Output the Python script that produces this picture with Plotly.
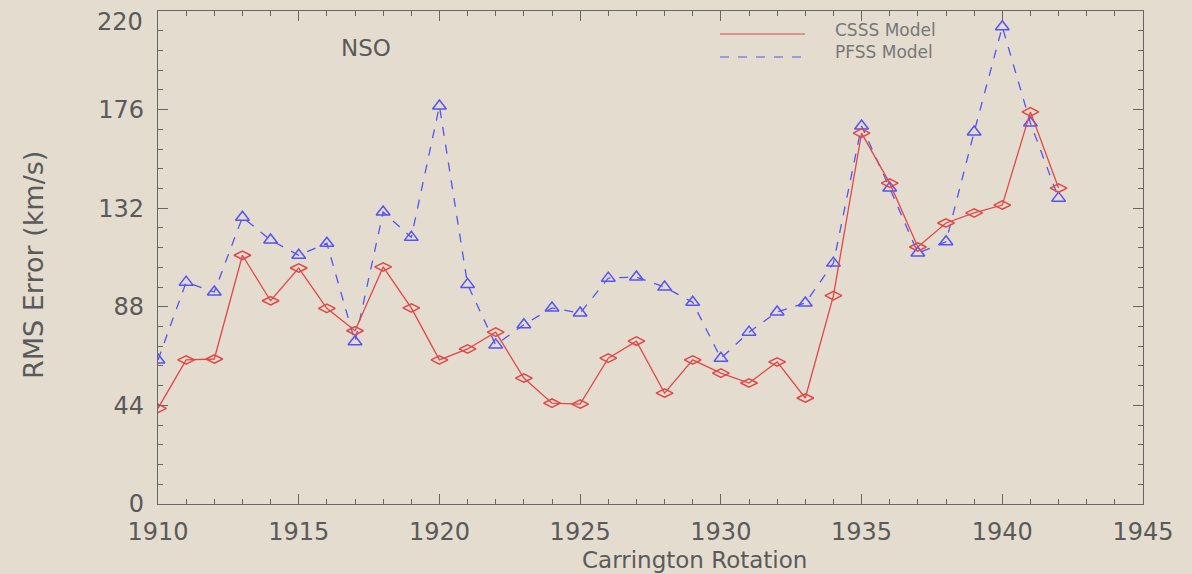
import plotly.graph_objects as go

rotations = list(range(1910, 1943))
csss = [42.7, 64.3, 64.7, 111.0, 90.7, 105.3, 87.3, 77.3, 105.8, 87.5,
        64.3, 69.2, 76.7, 56.2, 45.0, 44.6, 65.1, 72.7, 49.5, 64.3,
        58.4, 54.0, 63.4, 47.3, 93.0, 165.5, 143.2, 114.7, 125.4, 129.9,
        133.4, 175.0, 141.0]
pfss = [64.3, 99.0, 94.6, 128.0, 117.8, 111.0, 116.4, 72.4, 130.3, 119.0,
        177.6, 98.0, 71.0, 80.0, 87.5, 85.2, 100.8, 101.3, 96.8, 90.0,
        65.0, 76.7, 85.7, 89.7, 107.5, 168.7, 141.0, 112.0, 117.0, 166.0,
        213.0, 170.0, 136.5]
y_ticks = [0, 44, 88, 132, 176, 220]
y_ticktext = ["0", "44", "88", "132", "176", ""]   # top label "220" drawn just below its tick
y_top_label = "220"
x_ticks = [1910, 1915, 1920, 1925, 1930, 1935, 1940, 1945]

BG = "#e4dccf"
AX = "#666666"
TXT = "#5a5a5a"
RED = "#e04848"
BLUE = "#5454f4"
FONT = "DejaVu Sans"

fig = go.Figure()
fig.add_trace(go.Scatter(
    x=rotations, y=pfss, mode="lines+markers", name="PFSS Model",
    line=dict(color=BLUE, width=1.3, dash="dash"),
    marker=dict(symbol="triangle-up-open", size=12, color=BLUE, line=dict(width=1.5)),
    showlegend=False))
fig.add_trace(go.Scatter(
    x=rotations, y=csss, mode="lines+markers", name="CSSS Model",
    line=dict(color=RED, width=1.3),
    marker=dict(symbol="diamond-wide-open", size=12, color=RED, line=dict(width=1.5)),
    showlegend=False))

axis_common = dict(showline=True, linecolor=AX, linewidth=1.2, mirror="ticks",
                   ticks="inside", tickcolor=AX, tickwidth=1, ticklen=10,
                   showgrid=False, zeroline=False, ticklabeloverflow="allow",
                   automargin=False,
                   tickfont=dict(family=FONT, size=24, color=TXT))

fig.update_xaxes(range=[1910, 1945], tickvals=x_ticks, ticktext=[str(v) for v in x_ticks],
                 minor=dict(dtick=1, ticks="inside", ticklen=5, tickcolor=AX, showgrid=False),
                 ticklabelstandoff=6, **axis_common)
fig.update_yaxes(range=[0, 220.01], tickvals=y_ticks, ticktext=y_ticktext,
                 minor=dict(dtick=8.8, tick0=0, ticks="inside", ticklen=5, tickcolor=AX, showgrid=False),
                 ticklabelstandoff=8, **axis_common)

W, H = 1192, 574
L, R, T, B = 158, 49, 11, 70
pw, ph = W - L - R, H - T - B

def px(xp):
    return (xp - L) / pw

def py(yp):
    return (H - B - yp) / ph

def label(text, x, y, size, color=TXT, xanchor="center", angle=0):
    return dict(text=text, x=px(x), y=py(y), xref="paper", yref="paper",
                xanchor=xanchor, yanchor="middle", showarrow=False, textangle=angle,
                font=dict(family=FONT, size=size, color=color))

annotations = [
    label(y_top_label, 145, 22, 24, xanchor="right"),
    label("NSO", 366, 48, 23),
    label("Carrington Rotation", 694, 560, 23),
    label("RMS Error (km/s)", 33, 265, 27, angle=-90),
    label("CSSS Model", 833, 30, 17, color="#777777", xanchor="left"),
    label("PFSS Model", 833, 52, 17, color="#777777", xanchor="left"),
]
shapes = [
    dict(type="line", xref="paper", yref="paper", x0=px(720), x1=px(805), y0=py(34), y1=py(34),
         line=dict(color=RED, width=1.2)),
    dict(type="line", xref="paper", yref="paper", x0=px(720), x1=px(805), y0=py(57), y1=py(57),
         line=dict(color=BLUE, width=1.2, dash="dash")),
]

fig.update_layout(width=W, height=H, margin=dict(l=L, r=R, t=T, b=B, autoexpand=False),
                  paper_bgcolor=BG, plot_bgcolor=BG,
                  annotations=annotations, shapes=shapes, showlegend=False)

fig.write_html("out.html")
